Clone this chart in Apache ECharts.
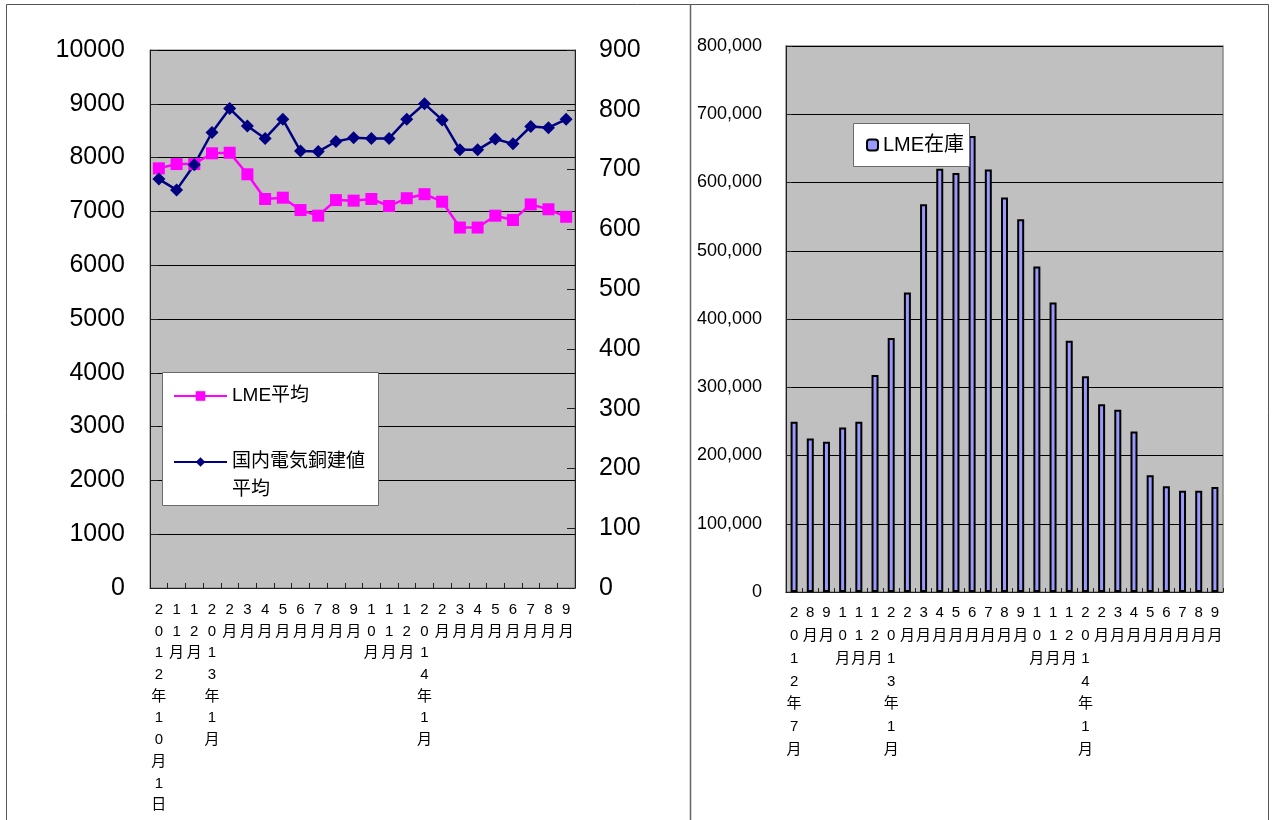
<!DOCTYPE html>
<html>
<head>
<meta charset="utf-8">
<script src="https://cdn.jsdelivr.net/npm/echarts@6/dist/echarts.min.js"></script>
<style>
  html, body { margin: 0; padding: 0; background: #ffffff; }
  #chart { width: 1276px; height: 820px; }
</style>
</head>
<body>
<div id="chart"></div>
<script>
// Monthly copper prices (left panel)
const priceMonths = [
  '2012年10月1日', '11月', '12月',
  '2013年1月', '2月', '3月', '4月', '5月', '6月', '7月', '8月', '9月', '10月', '11月', '12月',
  '2014年1月', '2月', '3月', '4月', '5月', '6月', '7月', '8月', '9月'
];
// LME average, USD/t (left axis)
const lmeAverage = [
  7800, 7880, 7880, 8080, 8090, 7690, 7230, 7255, 7025, 6920, 7210, 7200,
  7230, 7100, 7245, 7320, 7180, 6700, 6700, 6920, 6840, 7130, 7040, 6900
];
// Domestic electrolytic copper list price average, yen/kg (right axis)
const domesticAverage = [
  684, 666, 708, 762, 802, 773, 752, 784, 731, 730, 747, 753,
  752, 752, 784, 810, 783, 733, 733, 751, 743, 772, 770, 784
];

// LME copper stocks, tonnes (right panel)
const stockMonths = [
  '2012年7月', '8月', '9月', '10月', '11月', '12月',
  '2013年1月', '2月', '3月', '4月', '5月', '6月', '7月', '8月', '9月', '10月', '11月', '12月',
  '2014年1月', '2月', '3月', '4月', '5月', '6月', '7月', '8月', '9月'
];
const lmeStocks = [
  249500, 225000, 220000, 241000, 249500, 318000,
  372000, 439000, 568000, 620000, 614000, 668000, 619000, 578000, 546000, 477000, 424000, 368000,
  316000, 275000, 267000, 235000, 171000, 155000, 148500, 148500, 154000
];

const LEFT_TICKS = { min: 0, max: 10000, interval: 1000 };
const RIGHT_TICKS = { min: 0, max: 900, interval: 100 };
const STOCK_TICKS = { min: 0, max: 800000, interval: 100000 };

const FONT = '"Liberation Sans", "Noto Sans CJK JP", sans-serif';
const stackChars = v => String(v).split('').join('\n');
const plainNumber = v => String(v);

const chart = echarts.init(document.getElementById('chart'), null, { renderer: 'canvas' });

chart.setOption({
  backgroundColor: '#ffffff',
  animation: false,
  textStyle: { fontFamily: FONT, color: '#000' },
  grid: [
    { left: 150, top: 50, width: 425, height: 538, show: true,
      backgroundColor: '#c0c0c0', borderColor: '#7a7a7a', borderWidth: 1 },
    { left: 786, top: 46, width: 437, height: 546, show: true,
      backgroundColor: '#c0c0c0', borderColor: '#8a8a8a', borderWidth: 1.5 }
  ],
  xAxis: [
    {
      type: 'category', gridIndex: 0, data: priceMonths, boundaryGap: true,
      axisLine: { lineStyle: { color: '#202020', width: 1 } },
      axisTick: { show: true, inside: true, length: 5, lineStyle: { color: '#202020' } },
      axisLabel: { interval: 0, margin: 11, formatter: stackChars,
                   fontFamily: FONT, fontSize: 15, lineHeight: 21.7, color: '#000' }
    },
    {
      type: 'category', gridIndex: 1, data: stockMonths, boundaryGap: true,
      axisLine: { lineStyle: { color: '#202020', width: 1 } },
      axisTick: { show: true, inside: true, length: 4, lineStyle: { color: '#202020' } },
      axisLabel: { interval: 0, margin: 10, formatter: stackChars,
                   fontFamily: FONT, fontSize: 15, lineHeight: 22.7, color: '#000' }
    }
  ],
  yAxis: [
    {
      type: 'value', gridIndex: 0, position: 'left', ...LEFT_TICKS,
      axisLine: { show: true, lineStyle: { color: '#202020' } },
      axisTick: { show: true, inside: true, length: 8, lineStyle: { color: '#202020' } },
      splitLine: { show: true, lineStyle: { color: '#000', width: 1 } },
      axisLabel: { margin: 25, fontFamily: FONT, fontSize: 25, color: '#000',
                   formatter: plainNumber }
    },
    {
      type: 'value', gridIndex: 0, position: 'right', ...RIGHT_TICKS,
      axisLine: { show: true, lineStyle: { color: '#202020' } },
      axisTick: { show: true, inside: true, length: 8, lineStyle: { color: '#202020' } },
      splitLine: { show: false },
      axisLabel: { margin: 24, fontFamily: FONT, fontSize: 25, color: '#000',
                   formatter: plainNumber }
    },
    {
      type: 'value', gridIndex: 1, position: 'left', ...STOCK_TICKS,
      axisLine: { show: true, lineStyle: { color: '#202020' } },
      axisTick: { show: true, inside: true, length: 6, lineStyle: { color: '#202020' } },
      splitLine: { show: true, lineStyle: { color: '#000', width: 1 } },
      axisLabel: { margin: 24, fontFamily: FONT, fontSize: 18, color: '#000',
                   formatter: v => v.toLocaleString('en-US') }
    }
  ],
  legend: [
    {
      data: ['LME平均'], left: 173, top: 383, orient: 'vertical', padding: 0,
      itemWidth: 53, itemHeight: 12,
      textStyle: { fontFamily: FONT, fontSize: 19, lineHeight: 26, color: '#000' }
    },
    {
      // leading blank line keeps the marker level with the first text line
      data: ['国内電気銅建値'], left: 173, top: 420, orient: 'vertical', padding: 0,
      itemWidth: 53, itemHeight: 12,
      formatter: name => '\n' + name + '\n平均',
      textStyle: { fontFamily: FONT, fontSize: 19, lineHeight: 28, color: '#000' }
    },
    {
      data: ['LME在庫'], left: 866, top: 132, padding: 0,
      itemWidth: 11, itemHeight: 11,
      textStyle: { fontFamily: FONT, fontSize: 20, lineHeight: 26, color: '#000' }
    }
  ],
  graphic: [
    // panel frame and divider
    { type: 'polyline', z: 10, silent: true,
      shape: { points: [[6.5, 830], [6.5, 4.5], [1268.5, 4.5], [1268.5, 830]] },
      style: { stroke: '#555', lineWidth: 1, fill: null } },
    { type: 'line', z: 10, silent: true,
      shape: { x1: 690.5, y1: 4.5, x2: 690.5, y2: 830 },
      style: { stroke: '#666', lineWidth: 1.5 } },
    // legend boxes
    { type: 'rect', z: 3, silent: true,
      shape: { x: 162.5, y: 372.5, width: 216, height: 133 },
      style: { fill: '#ffffff', stroke: '#6a6a6a', lineWidth: 1 } },
    { type: 'rect', z: 3, silent: true,
      shape: { x: 853.5, y: 123.5, width: 116, height: 43 },
      style: { fill: '#ffffff', stroke: '#6a6a6a', lineWidth: 1 } }
  ],
  series: [
    {
      name: 'LME平均', type: 'line', xAxisIndex: 0, yAxisIndex: 0, data: lmeAverage,
      symbol: 'rect', symbolSize: 12, z: 2,
      lineStyle: { color: '#ff00ff', width: 2.5 },
      itemStyle: { color: '#ff00ff' }
    },
    {
      name: '国内電気銅建値', type: 'line', xAxisIndex: 0, yAxisIndex: 1, data: domesticAverage,
      symbol: 'diamond', symbolSize: 13, z: 2,
      lineStyle: { color: '#000080', width: 2.5 },
      itemStyle: { color: '#000080' }
    },
    {
      name: 'LME在庫', type: 'bar', xAxisIndex: 1, yAxisIndex: 2, data: lmeStocks,
      barWidth: 7, z: 2,
      itemStyle: { color: '#9999ff', borderColor: '#000', borderWidth: 2 }
    }
  ]
});
</script>
</body>
</html>
